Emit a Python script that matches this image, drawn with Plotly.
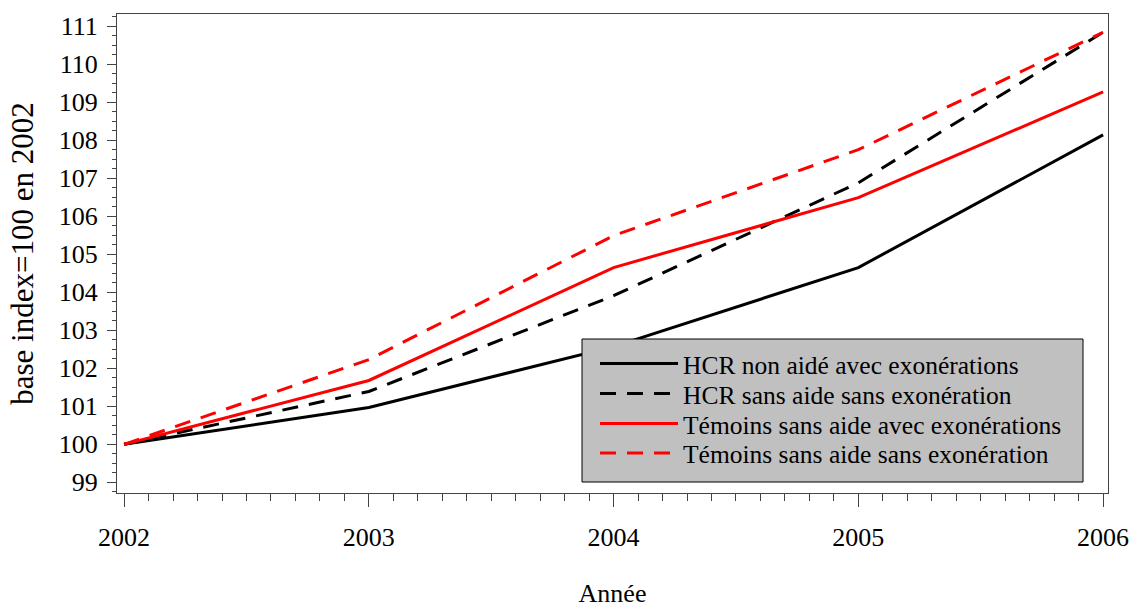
import plotly.graph_objects as go

years = [2002, 2003, 2004, 2005, 2006]
hcr_avec = [100, 100.97, 102.57, 104.65, 108.14]
hcr_sans = [100, 101.39, 103.91, 106.88, 110.84]
tem_avec = [100, 101.68, 104.65, 106.49, 109.27]
tem_sans = [100, 102.23, 105.49, 107.75, 110.84]

names = [
    "HCR non aidé avec exonérations",
    "HCR sans aide sans exonération",
    "Témoins sans aide avec exonérations",
    "Témoins sans aide sans exonération",
]
series = [hcr_avec, hcr_sans, tem_avec, tem_sans]
colors = ["black", "black", "#ff0000", "#ff0000"]
dashes = ["solid", "16px,11px", "solid", "16px,11px"]

FONT = "Liberation Serif, Times New Roman, serif"

# plot area in pixels (for paper-coordinate conversions)
L, R, T, B = 117, 23, 14, 115
W, H = 1131, 608
PW, PH = W - L - R, H - T - B


def px_x(px):
    return (px - L) / PW


def px_y(py):
    return 1 - (py - T) / PH


legend_ids = ["legend", "legend2", "legend3", "legend4"]
row_centers = [363.3, 393.3, 423.3, 452.7]

fig = go.Figure()
for name, vals, c, d, lg in zip(names, series, colors, dashes, legend_ids):
    fig.add_trace(go.Scatter(
        x=years, y=vals, mode="lines", name=name, legend=lg, showlegend=True,
        line=dict(color=c, width=3, dash=d),
    ))

axis_common = dict(
    showgrid=False, zeroline=False, showline=True, linecolor="#444",
    linewidth=1, mirror=True, ticks="outside", tickcolor="#444",
    tickfont=dict(family=FONT, size=26, color="black"), automargin=False,
)

fig.update_xaxes(
    range=[2001.971, 2006.02], dtick=1, tick0=2002, ticklen=13, tickwidth=1,
    minor=dict(dtick=0.1, tick0=2002, ticks="outside", ticklen=7, tickcolor="#444"),
    title=dict(text="Année", font=dict(family=FONT, size=26, color="black"), standoff=32),
    ticklabelstandoff=8,
    **axis_common,
)
fig.update_yaxes(
    range=[98.72, 111.32], dtick=1, tick0=99, ticklen=9, tickwidth=1,
    minor=dict(dtick=0.25, tick0=99, ticks="outside", ticklen=4, tickcolor="#444"),
    title=dict(text="base index=100 en 2002", font=dict(family=FONT, size=31, color="black"), standoff=15),
    ticklabelstandoff=4,
    **axis_common,
)

# legend background box
fig.add_shape(
    type="rect", xref="paper", yref="paper", layer="above",
    x0=px_x(582), x1=px_x(1083), y0=px_y(482), y1=px_y(339),
    fillcolor="#c0c0c0", line=dict(color="black", width=1),
)

legend_style = dict(
    xanchor="left", yanchor="top", bgcolor="rgba(0,0,0,0)", borderwidth=0,
    font=dict(family=FONT, size=25.5, color="black"), itemwidth=78,
    visible=True,
)
layout_legends = {}
for lg, rc in zip(legend_ids, row_centers):
    layout_legends[lg] = dict(x=px_x(595), y=px_y(rc - 22.75), **legend_style)

fig.update_layout(
    width=W, height=H,
    margin=dict(l=L, r=R, t=T, b=B),
    paper_bgcolor="white", plot_bgcolor="white",
    font=dict(family=FONT, color="black"),
    showlegend=True,
    **layout_legends,
)

fig.write_html(
    "out.html",
    config={"displayModeBar": False},
    post_script="document.body.style.margin='0';",
)
